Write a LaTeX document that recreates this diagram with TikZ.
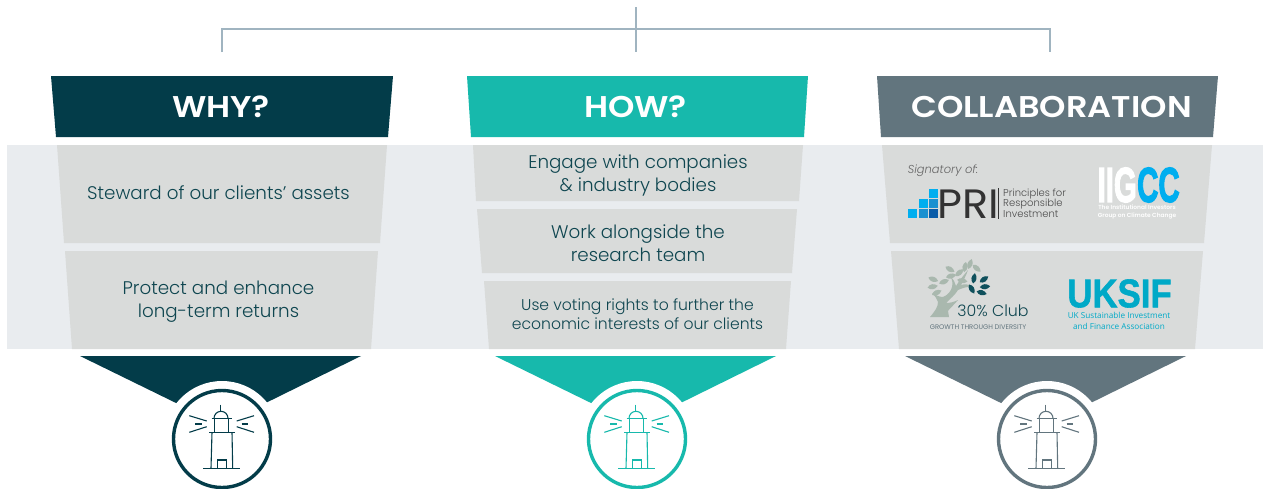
\documentclass[tikz,border=0pt]{standalone}
\usepackage{fontspec}
\setmainfont{Poppins}[BoldFont={Poppins SemiBold},ItalicFont={Poppins Light Italic}]
\newfontfamily\lightf{Poppins Light}
\newfontfamily\regf{Poppins}
\newfontfamily\boldf{Poppins SemiBold}
\newfontfamily\heavyf[FakeBold=1.5]{Liberation Sans Bold}
\newfontfamily\iigf[FakeBold=3]{Liberation Sans Bold}
\newfontfamily\narrowf{Open Sans}
\definecolor{cdark}{HTML}{033C49}
\definecolor{cteal}{HTML}{17B9AC}
\definecolor{cslate}{HTML}{62757E}
\definecolor{cgray}{HTML}{D9DBDA}
\definecolor{cband}{HTML}{E9ECEF}
\definecolor{cline}{HTML}{A0B4C0}
\definecolor{ctext}{HTML}{0F4650}
\definecolor{sky}{HTML}{00AEEF}
\definecolor{midb}{HTML}{1A90D0}
\definecolor{deepb}{HTML}{0A5CA8}
\definecolor{uks}{HTML}{00A9C7}
\definecolor{leaf}{HTML}{A9B8AE}
\definecolor{leafd}{HTML}{0F505C}
\tikzset{
  connector/.style={draw=cline,line width=1.8pt},
  headtext/.style={text=white,font=\boldf\fontsize{30}{30}\selectfont,anchor=center,inner sep=0pt},
  bodytext/.style={text=ctext,font=\lightf\fontsize{18.3}{22.5}\selectfont,align=center,anchor=center,inner sep=0pt},
  smalltext/.style={text=ctext,font=\lightf\fontsize{15.6}{18.5}\selectfont,align=center,anchor=center,inner sep=0pt},
  logotext/.style={inner sep=0pt,anchor=center,align=center},
  lh/.style={line width=1.1pt},
}
\newcommand{\wide}[1]{\scalebox{1.12}[1]{#1}}
% centre x, colour
\newcommand{\lighthouse}[2]{%
  \begin{scope}[shift={(#1,0)}]
    \fill[white] (0,439) circle (58);
    \draw[#2,line width=3.4pt] (0,439) circle (48.5);
    \begin{scope}[#2,lh]
      \draw (-1.5,404.5) -- (-1.5,411.7);
      \draw (-8,418.3) arc (180:360:7);
      \draw (-10.3,418.3) -- (9.7,418.3);
      \draw (-7.7,418.3) -- (-7.7,432.3);
      \draw (6.3,418.3) -- (6.3,432.3);
      \draw (-13,432.3) -- (13,432.3);
      \draw (-10,432.3) -- (-11,468.3);
      \draw (10,432.3) -- (10.7,468.3);
      \draw (-18.7,468.3) -- (18,468.3);
      \draw (-4.7,468.3) -- (-4.7,460) -- (4.3,460) -- (4.3,468.3);
      \draw (-32.7,415.7) -- (-15.3,421);
      \draw (-27,424) -- (-20.3,424);
      \draw (-32.7,432.3) -- (-15.3,426.7);
      \draw (32,415.7) -- (14.7,421);
      \draw (19.7,424) -- (26.3,424);
      \draw (32,432.3) -- (14.7,426.7);
    \end{scope}
  \end{scope}}
\newcommand{\leafat}[4]{\fill[#4,shift={(#1,#2)},rotate=#3] (-5.2,0) .. controls (-2.5,-3.4) and (2,-3.4) .. (5.2,0) .. controls (2,3.4) and (-2.5,3.4) .. (-5.2,0) -- cycle;}
\begin{document}
\begin{tikzpicture}[x=1pt,y=-1pt]
\useasboundingbox (0,0) rectangle (1263,488);
\fill[white] (0,0) rectangle (1263,488);
% band
\fill[cband] (7,145) rectangle (1263,349);
% connectors
\coordinate (top) at (636,7);
\coordinate (hub) at (636,29);
\coordinate (hubL) at (222,29);
\coordinate (hubR) at (1050,29);
\coordinate (endL) at (222,52);
\coordinate (endM) at (636,52);
\coordinate (endR) at (1050,52);
\draw[connector] (endL) -- (hubL) -- (hubR) -- (endR);
\draw[connector] (top) -- (endM);
% headers
\fill[cdark] (51,76) -- (393,76) -- (388,137) -- (56,137) -- cycle;
\fill[cteal] (467,76) -- (808,76) -- (804,137) -- (471,137) -- cycle;
\fill[cslate] (877,76) -- (1218,76) -- (1213,137) -- (881,137) -- cycle;
\node[headtext] (why) at (221,107) {\wide{WHY?}};
\node[headtext] (how) at (635.5,107) {\wide{HOW?}};
\node[headtext] (col) at (1051.5,107) {\wide{COLLABORATION}};
% grey boxes
\fill[cgray] (57,145) -- (387,145) -- (380,243) -- (64,243) -- cycle;
\fill[cgray] (65,251) -- (378,251) -- (371,349) -- (72,349) -- cycle;
\fill[cgray] (473,145) -- (803,145) -- (799,201) -- (476,201) -- cycle;
\fill[cgray] (477,209) -- (797,209) -- (792,273) -- (482,273) -- cycle;
\fill[cgray] (484,281) -- (791,281) -- (786,349) -- (489,349) -- cycle;
\fill[cgray] (882,145) -- (1212,145) -- (1204,243) -- (890,243) -- cycle;
\fill[cgray] (891,251) -- (1203,251) -- (1195,349) -- (899,349) -- cycle;
% texts
\node[bodytext] (t1) at (218.5,192.5) {Steward of our clients’ assets};
\node[bodytext] (t2) at (218.5,301.5) {Protect and enhance\\long-term returns};
\node[bodytext] (t3) at (638,175.5) {Engage with companies\\\& industry bodies};
\node[bodytext] (t4) at (638,243) {Work alongside the\\research team};
\node[smalltext] (t5) at (637.5,314) {Use voting rights to further the\\economic interests of our clients};
% bottom triangles
\fill[cdark] (80,356) -- (361,356) -- (221,425) -- cycle;
\fill[cteal] (495,356) -- (776,356) -- (636,425) -- cycle;
\fill[cslate] (905,356) -- (1186,356) -- (1046,425) -- cycle;
\lighthouse{222}{cdark}
\lighthouse{637}{cteal}
\lighthouse{1047}{cslate}
% PRI logo
\node[logotext,text=black!60,font=\itshape\fontsize{11.5}{14}\selectfont] (sig) at (943,171) {Signatory of:};
\fill[sky] (908,209) rectangle (917,218);
\fill[midb] (919,209) rectangle (928,218);
\fill[deepb] (929.3,209) rectangle (938,218);
\fill[sky] (919,199) rectangle (928,208);
\fill[midb] (929.3,199) rectangle (938,208);
\fill[sky] (929.3,189.3) rectangle (938,198.3);
\node[logotext,text=black!80,font=\regf\fontsize{41}{41}\selectfont] (pri) at (968,204) {\scalebox{1.05}[1]{PRI}};
\fill[black!80] (998.3,188) rectangle (999.1,219);
\node[logotext,anchor=west,text=black!70,align=left,font=\lightf\fontsize{10}{10.7}\selectfont] (prit) at (1003,203) {Principles for\\Responsible\\Investment};
% IIGCC
\node[logotext,anchor=east,text=white,font=\iigf\fontsize{49}{49}\selectfont] (iig) at (1137,185) {\scalebox{.6}[1]{IIG}};
\node[logotext,anchor=west,text=sky,font=\iigf\fontsize{49}{49}\selectfont] (cc) at (1137,185) {\scalebox{.6}[1]{CC}};
\node[logotext,text=white,font=\boldf\fontsize{5.9}{8.4}\selectfont] (iigt) at (1137,212) {The Institutional Investors\\Group on Climate Change};
% tree
\fill[leaf] (930,317) .. controls (935,311) and (938,307) .. (938,302) .. controls (937,299) and (935,296) .. (932,293)
  .. controls (936,295) and (939,297) .. (943,297) .. controls (948,295) and (951,291) .. (952,287)
  .. controls (953,283) and (952,280) .. (951,277) .. controls (954,280) and (955,283) .. (956,286)
  .. controls (959,281) and (963,276) .. (968,270) .. controls (966,276) and (963,281) .. (961,285)
  .. controls (964,284) and (968,284) .. (972,286) .. controls (967,287) and (962,288) .. (958,290)
  .. controls (955,295) and (950,299) .. (946,303) .. controls (950,303) and (954,302) .. (958,300)
  .. controls (954,305) and (950,308) .. (948,311) -- (949,317) -- cycle;
\leafat{933.3}{279.3}{-20}{leaf}
\leafat{932.7}{286.7}{10}{leaf}
\leafat{936.7}{292.7}{25}{leaf}
\leafat{950}{269.3}{-30}{leaf}
\leafat{951}{276}{15}{leaf}
\leafat{944}{281.7}{20}{leaf}
\leafat{959.3}{272.7}{40}{leaf}
\leafat{970}{264}{70}{leaf}
\leafat{976.7}{268.3}{-40}{leaf}
\leafat{965}{267}{80}{leaf}
\leafat{962.3}{280.7}{-10}{leaf}
\leafat{974}{278.3}{80}{leafd}
\leafat{984}{279.3}{35}{leafd}
\leafat{985}{286.7}{5}{leafd}
\leafat{981.7}{292.7}{-15}{leafd}
\leafat{971.7}{289}{-60}{leafd}
\node[logotext,text=ctext,font=\lightf\fontsize{15.8}{18}\selectfont] (club) at (993,311) {30\% Club};
\node[logotext,text=cslate,font=\regf\fontsize{6.7}{8}\selectfont] (grow) at (978,327.5) {GROWTH THROUGH DIVERSITY};
% UKSIF
\node[logotext,text=uks,font=\heavyf\fontsize{40}{40}\selectfont] (uksif) at (1119.5,293.5) {\scalebox{.87}[1]{UKSIF}};
\node[logotext,text=uks,font=\narrowf\fontsize{8.2}{10.4}\selectfont] (ukst) at (1119,321) {UK Sustainable Investment\\and Finance Association};
\end{tikzpicture}
\end{document}
